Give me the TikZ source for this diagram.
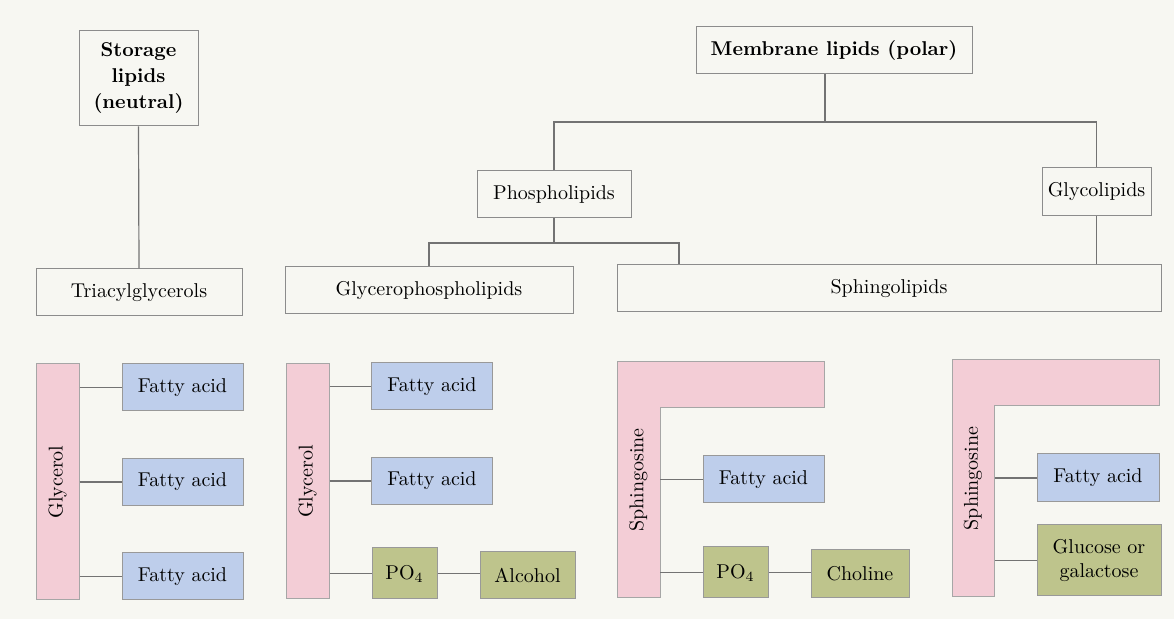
\documentclass[tikz,border=0pt]{standalone}
\usepackage{amsmath}
\usepackage{tikz}
\usetikzlibrary{positioning,backgrounds}
\definecolor{paper}{RGB}{247,247,242}
\definecolor{lipink}{RGB}{243,205,214}
\definecolor{liblue}{RGB}{190,206,235}
\definecolor{ligreen}{RGB}{190,196,140}
\tikzset{
  cls/.style    ={draw=black!45,line width=0.5pt,fill=paper,inner sep=0pt,
                  font=\normalsize,align=center},
  clshead/.style={cls,font=\normalsize\bfseries},
  part/.style   ={draw=black!40,line width=0.5pt,inner sep=0pt,align=center},
  fa/.style     ={part,fill=liblue,minimum width=60.5pt,minimum height=23.5pt},
  head/.style   ={part,fill=ligreen},
  bb/.style     ={draw=black!35,line width=0.5pt,fill=lipink},
}
\begin{document}
\begin{tikzpicture}[
  x=0.5pt, y=-0.5pt,
  ln/.style     ={draw=black!55,line width=0.6pt},
  barlab/.style ={inner sep=0pt,minimum width=21.5pt,minimum height=118pt},
]
\fill[paper] (0,0) rectangle (1174,619);
\useasboundingbox (0,0) rectangle (1174,619);
%% classes: storage lipids
\node[clshead,minimum width=59.5pt,minimum height=47.5pt] (storage) at (138.5,78.5)
      {Storage\\[1pt]lipids\\[1pt](neutral)};
\node[cls,minimum width=103pt,minimum height=23.5pt] (triacyl) at (139,292.5)
      {Triacylglycerols};
\draw[ln] (storage.south) -- (triacyl.north);
%% classes: membrane lipids
\node[clshead,minimum width=138pt,minimum height=23.5pt] (membrane) at (834,50.5)
      {Membrane lipids (polar)};
\node[cls,minimum width=77pt,minimum height=23.5pt] (phospho) at (554,194.5)
      {Phospholipids};
\node[cls,minimum width=54.5pt,minimum height=24pt] (glyco) at (1096.5,192)
      {Glycolipids};
\node[cls,minimum width=144pt,minimum height=23.5pt] (gpl) at (429,290.5)
      {Glycerophospholipids};
\node[cls,minimum width=272pt,minimum height=23.5pt] (sphingo) at (889,288.5)
      {Sphingolipids};
\coordinate (mjoin) at (825,122);
\coordinate (pjoin) at (554,243);
\coordinate (sjoin) at (679,243);
\draw[ln] (mjoin |- membrane.south) -- (mjoin);
\draw[ln] (phospho.north) |- (mjoin) -| (glyco.north);
\draw[ln] (phospho.south) -- (pjoin);
\draw[ln] (gpl.north) |- (pjoin) -- (sjoin) -- (sjoin |- sphingo.north);
\draw[ln] (glyco.south) -- (glyco.south |- sphingo.north);
%% triacylglycerol
\node[part,fill=lipink,draw=black!35,minimum width=21.5pt,minimum height=118pt]
      (gly1) at (57.5,482) {\rotatebox{90}{Glycerol}};
\node[fa] (fa11) at (182.5,387.5) {Fatty acid};
\node[fa] (fa12) at (182.5,482)   {Fatty acid};
\node[fa] (fa13) at (182.5,576.5) {Fatty acid};
\foreach \f in {fa11,fa12,fa13}
  \draw[ln] (\f.west -| gly1.east) -- (\f.west);
%% glycerophospholipid
\node[part,fill=lipink,draw=black!35,minimum width=21.5pt,minimum height=117.5pt]
      (gly2) at (307.5,481.5) {\rotatebox{90}{Glycerol}};
\node[fa] (fa21) at (432,386.5) {Fatty acid};
\node[fa] (fa22) at (432,481)   {Fatty acid};
\node[head,minimum width=32.5pt,minimum height=25.5pt] (po2) at (404.5,573.5) {PO$_4$};
\node[head,minimum width=47.5pt,minimum height=23.5pt] (alc) at (527.5,575.5) {Alcohol};
\foreach \f in {fa21,fa22,po2}
  \draw[ln] (\f.west -| gly2.east) -- (\f.west);
\draw[ln] (po2.east) -- (po2.east -| alc.west);
%% sphingolipid with choline
\filldraw[bb] (617,362) -- (824,362) -- (824,408) -- (660,408)
      -- (660,598) -- (617,598) -- cycle;
\node[barlab] (sph1) at (638.5,480) {\rotatebox{90}{Sphingosine}};
\node[fa] (fa31) at (763.5,479.5) {Fatty acid};
\node[head,minimum width=32.5pt,minimum height=25.5pt] (po3) at (735.5,572.5) {PO$_4$};
\node[head,minimum width=49pt,minimum height=24pt] (chol) at (860,574) {Choline};
\foreach \f in {fa31,po3}
  \draw[ln] (\f.west -| sph1.east) -- (\f.west);
\draw[ln] (po3.east) -- (po3.east -| chol.west);
%% glycolipid
\filldraw[bb] (952,360) -- (1159,360) -- (1159,406) -- (994,406)
      -- (994,597) -- (952,597) -- cycle;
\node[barlab] (sph2) at (973,478.5) {\rotatebox{90}{Sphingosine}};
\node[fa,minimum width=61pt,minimum height=24pt] (fa41) at (1098,478) {Fatty acid};
\node[head,minimum width=62pt,minimum height=35.5pt] (sugar) at (1099,560.5)
      {Glucose or\\galactose};
\foreach \f in {fa41,sugar}
  \draw[ln] (\f.west -| sph2.east) -- (\f.west);
\end{tikzpicture}
\end{document}
